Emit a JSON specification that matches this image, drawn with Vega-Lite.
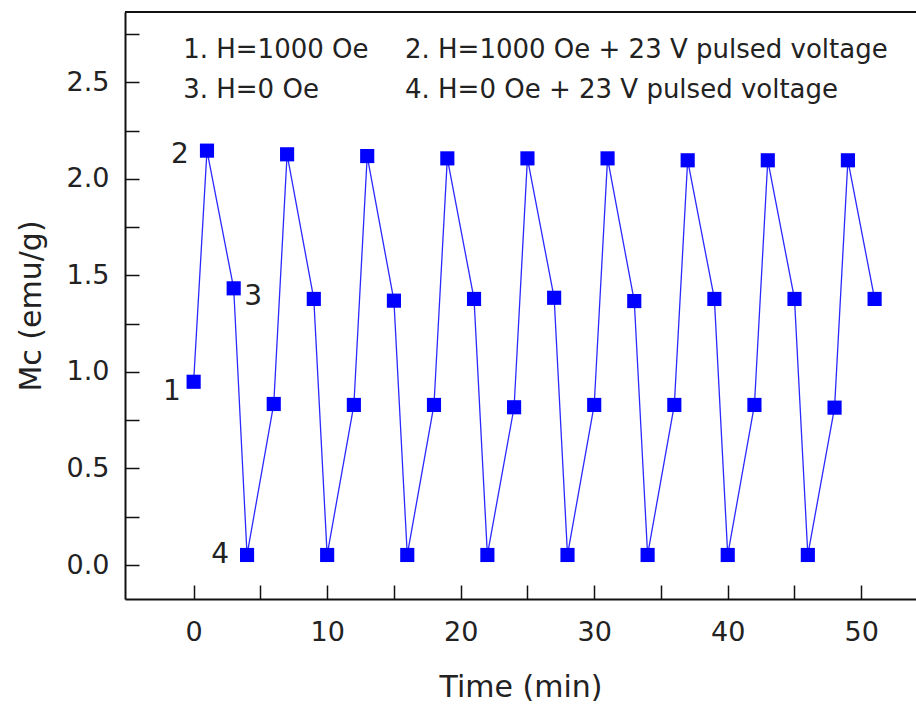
{
  "$schema": "https://vega.github.io/schema/vega-lite/v6.json",
  "autosize": "none",
  "padding": {"left": 125, "top": 12, "right": 0, "bottom": 105},
  "width": 791,
  "height": 587,
  "config": {
    "view": {"stroke": null},
    "font": "DejaVu Sans",
    "axis": {"domainColor": "#111", "domainWidth": 2, "tickColor": "#111", "tickWidth": 1.5, "labelColor": "#222", "titleColor": "#222", "labelFont": "DejaVu Sans", "titleFont": "DejaVu Sans", "titleFontWeight": "normal", "grid": false}
  },
  "datasets": {
    "series": [
      {"t": 0, "m": 0.949}, {"t": 1, "m": 2.146}, {"t": 3, "m": 1.433}, {"t": 4, "m": 0.052},
      {"t": 6, "m": 0.834}, {"t": 7, "m": 2.127}, {"t": 9, "m": 1.378}, {"t": 10, "m": 0.052},
      {"t": 12, "m": 0.829}, {"t": 13, "m": 2.118}, {"t": 15, "m": 1.369}, {"t": 16, "m": 0.052},
      {"t": 18, "m": 0.829}, {"t": 19, "m": 2.106}, {"t": 21, "m": 1.378}, {"t": 22, "m": 0.052},
      {"t": 24, "m": 0.817}, {"t": 25, "m": 2.106}, {"t": 27, "m": 1.384}, {"t": 28, "m": 0.052},
      {"t": 30, "m": 0.829}, {"t": 31, "m": 2.106}, {"t": 33, "m": 1.367}, {"t": 34, "m": 0.052},
      {"t": 36, "m": 0.829}, {"t": 37, "m": 2.096}, {"t": 39, "m": 1.378}, {"t": 40, "m": 0.052},
      {"t": 42, "m": 0.829}, {"t": 43, "m": 2.096}, {"t": 45, "m": 1.378}, {"t": 46, "m": 0.052},
      {"t": 48, "m": 0.815}, {"t": 49, "m": 2.096}, {"t": 51, "m": 1.378}
    ],
    "marks": [
      {"t": -1.62, "m": 0.896, "label": "1"},
      {"t": -1.02, "m": 2.123, "label": "2"},
      {"t": 4.45, "m": 1.388, "label": "3"},
      {"t": 1.98, "m": 0.052, "label": "4"}
    ],
    "notes": [
      {"t": -0.78, "m": 2.667, "label": "1. H=1000 Oe"},
      {"t": 15.83, "m": 2.667, "label": "2. H=1000 Oe + 23 V pulsed voltage"},
      {"t": -0.78, "m": 2.46, "label": "3. H=0 Oe"},
      {"t": 15.83, "m": 2.46, "label": "4. H=0 Oe + 23 V pulsed voltage"}
    ],
    "frame": [{"m": 2.864}]
  },
  "layer": [
    {
      "data": {"name": "series"},
      "mark": {"type": "line", "color": "#2a2aff", "strokeWidth": 1.3},
      "encoding": {
        "x": {"field": "t", "type": "quantitative", "scale": {"domain": [-5.14, 54.1], "nice": false, "zero": false},
          "axis": {"orient": "bottom", "title": "Time (min)", "titleFontSize": 30, "titlePadding": 27, "labelFontSize": 27, "labelPadding": 34,
            "values": [0, 5, 10, 15, 20, 25, 30, 35, 40, 45, 50],
            "labelExpr": "datum.value % 10 === 0 ? datum.label : ''",
            "tickSize": -14,
            "encode": {"ticks": {"update": {"y2": {"signal": "datum.value % 10 === 0 ? -14 : -8"}}}}}},
        "y": {"field": "m", "type": "quantitative", "scale": {"domain": [-0.176, 2.864], "nice": false, "zero": false},
          "axis": {"orient": "left", "title": "Mc (emu/g)", "titleFontSize": 30, "titlePadding": 20, "labelFontSize": 27, "labelPadding": 30,
            "values": [0, 0.25, 0.5, 0.75, 1, 1.25, 1.5, 1.75, 2, 2.25, 2.5, 2.75],
            "labelExpr": "abs(round(datum.value * 2) - datum.value * 2) < 0.01 ? format(datum.value, '.1f') : ''",
            "tickSize": -14,
            "encode": {"ticks": {"update": {"x2": {"signal": "abs(round(datum.value * 2) - datum.value * 2) < 0.01 ? 14 : 8"}}}}}}
      }
    },
    {
      "data": {"name": "series"},
      "mark": {"type": "square", "color": "#0000ff", "filled": true, "opacity": 1, "size": 200},
      "encoding": {
        "x": {"field": "t", "type": "quantitative"},
        "y": {"field": "m", "type": "quantitative"}
      }
    },
    {
      "data": {"name": "frame"},
      "mark": {"type": "rule", "color": "#111", "strokeWidth": 2},
      "encoding": {
        "y": {"field": "m", "type": "quantitative"}
      }
    },
    {
      "data": {"name": "marks"},
      "mark": {"type": "text", "fontSize": 28, "color": "#222", "align": "center", "baseline": "middle"},
      "encoding": {
        "x": {"field": "t", "type": "quantitative"},
        "y": {"field": "m", "type": "quantitative"},
        "text": {"field": "label"}
      }
    },
    {
      "data": {"name": "notes"},
      "mark": {"type": "text", "fontSize": 26, "color": "#222", "align": "left", "baseline": "middle"},
      "encoding": {
        "x": {"field": "t", "type": "quantitative"},
        "y": {"field": "m", "type": "quantitative"},
        "text": {"field": "label"}
      }
    }
  ]
}
